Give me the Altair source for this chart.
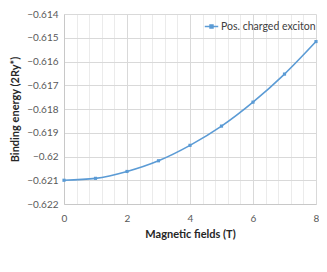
import altair as alt
import pandas as pd

fields = [0, 1, 2, 3, 4, 5, 6, 7, 8]
energy = [-0.62100, -0.62092, -0.62063, -0.62018, -0.61953, -0.61872, -0.61771, -0.61653, -0.61516]
series = "Pos. charged exciton"
x_grid = [round(0.4 * i, 1) for i in range(21)]
y_ticks = [-0.622, -0.621, -0.620, -0.619, -0.618, -0.617, -0.616, -0.615, -0.614]

df = pd.DataFrame({"B": fields, "E": energy, "s": [series] * len(fields)})

FONT = "Lato"
major = "abs(datum.value - round(datum.value/2)*2) < 0.01"

x_enc = alt.X(
    "B:Q",
    scale=alt.Scale(domain=[0, 8], nice=False, zero=False),
    axis=alt.Axis(
        values=x_grid,
        labelExpr=f"{major} ? format(datum.value, '.0f') : ''",
        title="Magnetic fields (T)",
        gridColor={"condition": {"test": major, "value": "#D9D9D9"}, "value": "#EBEBEB"},
        ticks=False,
        tickSize=0,
        domain=True,
        domainColor="#C8C8C8",
        labelOverlap=False,
        labelFlush=False,
        labelPadding=9,
        titlePadding=5,
    ),
)
y_enc = alt.Y(
    "E:Q",
    scale=alt.Scale(domain=[-0.622, -0.614], nice=False, zero=False),
    axis=alt.Axis(
        values=y_ticks,
        format=".3~f",
        title="Binding energy (2Ry*)",
        gridColor="#D9D9D9",
        ticks=False,
        tickSize=0,
        domain=True,
        domainColor="#C8C8C8",
        labelOverlap=False,
        labelFlush=False,
        labelPadding=6,
        titlePadding=6,
    ),
)
color = alt.Color(
    "s:N",
    scale=alt.Scale(range=["#5B9BD5"]),
    legend=alt.Legend(
        title=None,
        orient="none",
        legendX=140,
        legendY=5,
        symbolType="M-1,0H1M-0.22,-0.22H0.22V0.22H-0.22Z",
        symbolSize=180,
        symbolStrokeWidth=1.5,
        labelFontSize=10.5,
        labelColor="#404040",
        labelFont=FONT,
        labelOffset=2,
    ),
)

line = alt.Chart(df).mark_line(interpolate="monotone", strokeWidth=1.6).encode(x=x_enc, y=y_enc, color=color)
pts = alt.Chart(df).mark_point(shape="square", filled=True, size=10, opacity=1).encode(x=x_enc, y=y_enc, color=color)

chart = (
    alt.layer(line, pts)
    .properties(
        width=252,
        height=190,
        autosize=alt.AutoSizeParams(type="none"),
        padding={"left": 56, "top": 6, "right": 3, "bottom": 50},
    )
    .configure_view(stroke=None)
    .configure_axis(
        labelFont=FONT,
        labelFontSize=10,
        labelColor="#595959",
        titleFont=FONT,
        titleFontSize=11,
        titleFontWeight="bold",
        titleColor="#262626",
    )
)

chart.save("out.html", embed_options={"renderer": "svg", "actions": False})
